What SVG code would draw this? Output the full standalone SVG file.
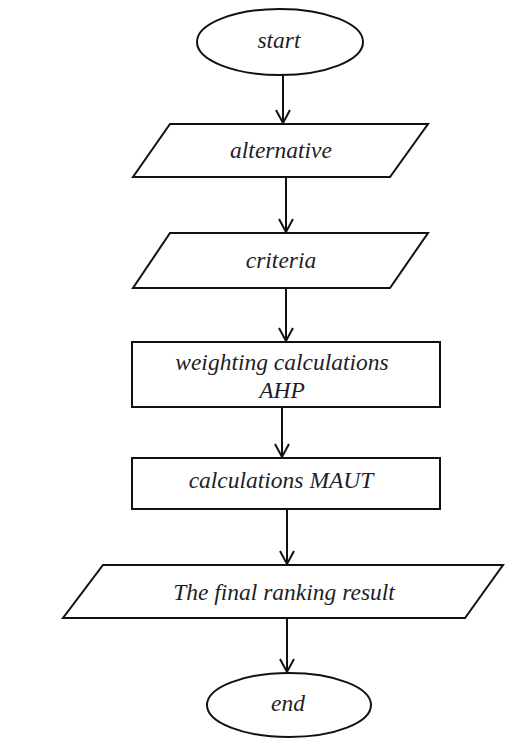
<svg xmlns="http://www.w3.org/2000/svg" width="531" height="747" viewBox="0 0 531 747">
<defs>
<style>
.shape{fill:#fff;stroke:#111;stroke-width:2}
.lbl{font-family:"Liberation Serif","Times New Roman",serif;font-style:italic;font-size:23.5px;fill:#1e1e28;text-anchor:middle}
.conn{stroke:#111;stroke-width:2;fill:none}
</style>
</defs>
<rect width="531" height="747" fill="#fff"/>
<g id="start">
<ellipse class="shape" cx="280" cy="42" rx="83" ry="33"/>
<text class="lbl" x="279" y="48">start</text>
</g>
<g id="alternative">
<polygon class="shape" points="170,124 428,124 390,177 133,177"/>
<text class="lbl" x="281" y="158">alternative</text>
</g>
<g id="criteria">
<polygon class="shape" points="170,233 428,233 390,288 133,288"/>
<text class="lbl" x="281" y="268">criteria</text>
</g>
<g id="ahp">
<rect class="shape" x="132" y="342" width="308" height="65"/>
<text class="lbl" x="282" y="370">weighting calculations</text>
<text class="lbl" x="282" y="398">AHP</text>
</g>
<g id="maut">
<rect class="shape" x="132" y="458" width="308" height="51"/>
<text class="lbl" x="281" y="488">calculations MAUT</text>
</g>
<g id="result">
<polygon class="shape" points="103,565 503,565 465,618 63,618"/>
<text class="lbl" x="284" y="600">The final ranking result</text>
</g>
<g id="end">
<ellipse class="shape" cx="289" cy="705" rx="82" ry="32"/>
<text class="lbl" x="288" y="711">end</text>
</g>
<g id="connectors">
<path class="conn" d="M283,75 V123 M276,110 L283,123 L290,110"/>
<path class="conn" d="M286,177 V232 M279,219 L286,232 L293,219"/>
<path class="conn" d="M286,288 V341 M279,328 L286,341 L293,328"/>
<path class="conn" d="M282,407 V457 M275,444 L282,457 L289,444"/>
<path class="conn" d="M287,509 V564 M280,551 L287,564 L294,551"/>
<path class="conn" d="M287,618 V672 M280,659 L287,672 L294,659"/>
</g>
</svg>
